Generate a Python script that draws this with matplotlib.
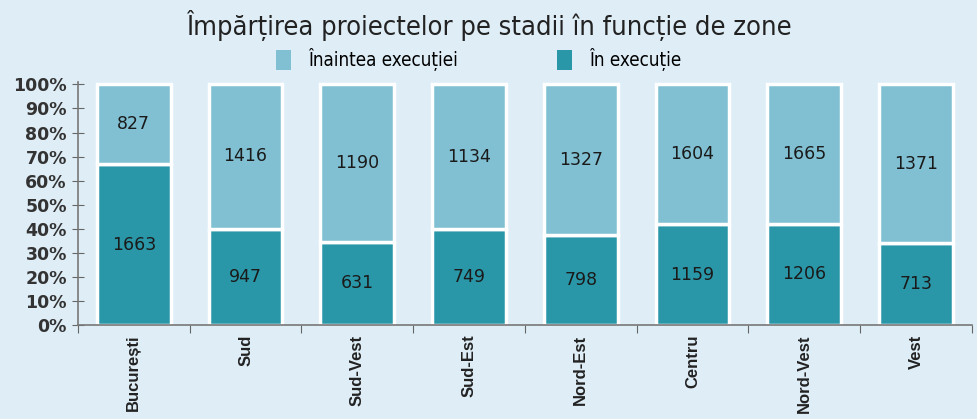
import matplotlib
matplotlib.use("Agg")
import matplotlib.pyplot as plt
from matplotlib.patches import Patch
import numpy as np

categories = ["București", "Sud", "Sud-Vest", "Sud-Est", "Nord-Est", "Centru", "Nord-Vest", "Vest"]
in_executie = [1663, 947, 631, 749, 798, 1159, 1206, 713]
inaintea_executiei = [827, 1416, 1190, 1134, 1327, 1604, 1665, 1371]
y_ticks = [0, 10, 20, 30, 40, 50, 60, 70, 80, 90, 100]

bg = "#deedf6"
light = "#80c0d2"
dark = "#2a97a8"

fig = plt.figure(figsize=(9.77, 4.19), dpi=100, facecolor=bg)
ax = fig.add_axes([0.0798, 0.2243, 0.915, 0.58], facecolor=bg)

tot = np.array(in_executie) + np.array(inaintea_executiei)
p_dark = np.array(in_executie) / tot * 100
p_light = np.array(inaintea_executiei) / tot * 100
x = np.arange(len(categories))
w = 0.66
ax.bar(x, p_dark, width=w, color=dark, edgecolor="white", linewidth=2.5, zorder=2)
ax.bar(x, p_light, width=w, bottom=p_dark, color=light, edgecolor="white", linewidth=2.5, zorder=2)

for i in range(len(categories)):
    ax.text(x[i], p_dark[i] / 2, str(in_executie[i]), ha="center", va="center", fontsize=12.5, color="#1a1a1a")
    ax.text(x[i], p_dark[i] + p_light[i] / 2, str(inaintea_executiei[i]), ha="center", va="center",
            fontsize=12.5, color="#1a1a1a")

ax.set_xlim(-0.5, len(categories) - 0.5)
ax.set_ylim(0, 101)
ax.set_yticks(y_ticks)
ax.set_yticklabels([f"{v}%" for v in y_ticks], fontsize=12.5, fontweight="bold", color="#333333")
ax.set_xticks(np.arange(len(categories) + 1) - 0.5)
ax.set_xticklabels([])
ax.set_xticks(x, minor=True)
ax.set_xticklabels(categories, minor=True, rotation=90, fontsize=12, fontweight="bold", color="#222222",
                   family="Liberation Sans")
ax.tick_params(axis="x", which="minor", length=0, pad=7)
ax.tick_params(axis="x", which="major", length=6, color="#666666", direction="out")
ax.tick_params(axis="y", length=8, color="#666666", direction="inout", pad=4)
for s in ["top", "right"]:
    ax.spines[s].set_visible(False)
for s in ["left", "bottom"]:
    ax.spines[s].set_color("#777777")
    ax.spines[s].set_linewidth(1.2)

fig.text(0.5, 0.94, "Împărțirea proiectelor pe stadii în funcție de zone", ha="center", va="center",
         fontsize=19.5, family="DejaVu Sans", stretch="condensed", color="#222222")
handles = [Patch(facecolor=light, edgecolor="none"), Patch(facecolor=dark, edgecolor="none")]
labels = ["Înaintea execuției", "În execuție"]
fig.legend(handles, labels, loc="center", bbox_to_anchor=(0.49, 0.857), ncol=2, frameon=False,
           prop={"family": "DejaVu Sans", "stretch": "condensed", "size": 13.5},
           handlelength=0.8, handleheight=1.2, columnspacing=5.3, handletextpad=0.9)
fig.savefig("out.png", dpi=100, facecolor=bg)
